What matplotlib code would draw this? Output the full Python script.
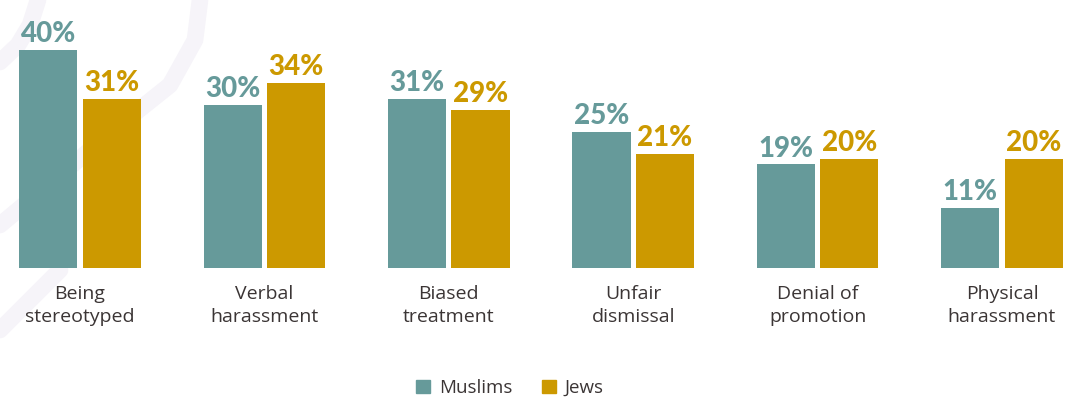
import matplotlib.pyplot as plt
import numpy as np
from matplotlib.patches import Patch

categories = ['Being\nstereotyped', 'Verbal\nharassment', 'Biased\ntreatment',
              'Unfair\ndismissal', 'Denial of\npromotion', 'Physical\nharassment']
muslims = [40, 30, 31, 25, 19, 11]
jews = [31, 34, 29, 21, 20, 20]

teal = '#669a9a'
gold = '#cc9900'
text_col = '#3b3535'

W, H = 1065, 401
fig = plt.figure(figsize=(W / 100, H / 100), dpi=100)

# faint decorative bands in the top-left corner
bg = fig.add_axes([0, 0, 1, 1])
bg.set_xlim(0, W)
bg.set_ylim(H, 0)
bg.axis('off')
band = '#f6f4f9'
bg.plot([38, 30, 18, 0], [0, 25, 45, 62], color=band, lw=12, solid_capstyle='round')
bg.plot([200, 195, 170, 120, 0], [0, 40, 85, 125, 225], color=band, lw=12, solid_capstyle='round')
bg.plot([60, 0], [270, 330], color=band, lw=12, solid_capstyle='round')

ax = fig.add_axes([0, (H - 268) / H, 1, 268 / H])
ax.patch.set_visible(False)
x = np.arange(len(categories))
bw = 0.315
off = 0.172
b1 = ax.bar(x - off, muslims, bw, color=teal)
b2 = ax.bar(x + off, jews, bw, color=gold)

for bars, vals, col in [(b1, muslims, teal), (b2, jews, gold)]:
    for b, v in zip(bars, vals):
        ax.annotate(f'{v}%', (b.get_x() + b.get_width() / 2, v), xytext=(0, 2),
                    textcoords='offset points', ha='center', va='bottom',
                    color=col, fontsize=20, fontweight='black', family='Lato')

ax.set_xlim(-80 / 184.4, (W - 80) / 184.4)
ax.set_ylim(0, 268 / 5.45)
ax.axis('off')

for i, c in enumerate(categories):
    ax.text(i, -0.065, c, transform=ax.get_xaxis_transform(), ha='center', va='top',
            fontsize=14, color=text_col, family='Open Sans', linespacing=1.35)

handles = [Patch(color=teal, label='Muslims'), Patch(color=gold, label='Jews')]
fig.legend(handles=handles, loc='center', bbox_to_anchor=(510 / W, 1 - 388 / H), ncol=2,
           frameon=False, prop={'family': 'Open Sans', 'size': 13.5}, labelcolor=text_col,
           handlelength=0.75, handleheight=0.75, handletextpad=0.45, columnspacing=1.6)

fig.savefig('out.png', dpi=100)
